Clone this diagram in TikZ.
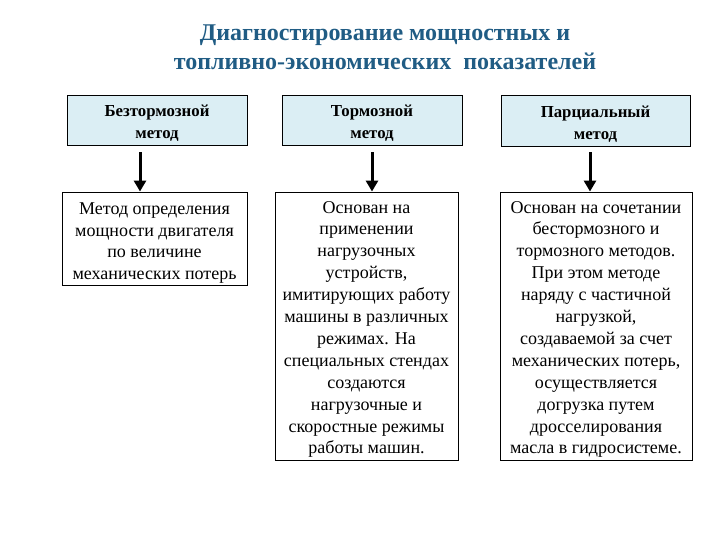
\documentclass[tikz,border=0pt]{standalone}
\usepackage{fontspec}
\setmainfont{Liberation Serif}
\usetikzlibrary{arrows.meta}
\definecolor{titleblue}{RGB}{32,92,132}
\definecolor{headfill}{RGB}{219,238,244}
\tikzset{
  headbox/.style={draw=black, line width=0.9pt, fill=headfill, inner sep=0pt},
  textbox/.style={draw=black, line width=0.9pt, fill=white, inner sep=0pt},
  headtext/.style={align=center, inner sep=0pt, font=\fontsize{16.8}{22}\selectfont\bfseries},
  bodytext/.style={align=center, inner sep=0pt, font=\fontsize{18}{21.9}\selectfont},
  arr/.style={line width=3pt, -{Triangle[length=11pt,width=12pt]}},
  titletext/.style={align=center, text=titleblue, font=\fontsize{24}{29}\selectfont\bfseries}
}
\begin{document}
\begin{tikzpicture}[x=1pt,y=-1pt]
\useasboundingbox (0,0) rectangle (720,540);
\node[titletext] (title) at (385,47.5) {Диагностирование мощностных и\\топливно-экономических\ \ показателей};
\node[headbox, minimum width=180pt, minimum height=50pt] (t1) at (157,120) {};
\node[headbox, minimum width=180pt, minimum height=50pt] (t2) at (372,120) {};
\node[headbox, minimum width=189pt, minimum height=51pt] (t3) at (595.5,120.5) {};
\node[headtext] (t1text) at ([yshift=-3.5pt]t1.center) {Безтормозной\\метод};
\node[headtext] (t2text) at ([yshift=-3.5pt]t2.center) {Тормозной\\метод};
\node[headtext] (t3text) at ([yshift=-3.5pt]t3.center) {Парциальный\\метод};
\node[textbox, minimum width=185pt, minimum height=93pt] (b1) at (154.5,238.5) {};
\node[textbox, minimum width=183pt, minimum height=268pt] (b2) at (366.5,326) {};
\node[textbox, minimum width=192pt, minimum height=268pt] (b3) at (596,326) {};
\node[bodytext] (b1text) at ([yshift=-4.5pt]b1.center) {Метод определения\\мощности двигателя\\по величине\\механических потерь};
\node[bodytext] (b2text) at ([yshift=-3.5pt]b2.center) {Основан на\\применении\\нагрузочных\\устройств,\\имитирующих работу\\машины в различных\\режимах. На\\специальных стендах\\создаются\\нагрузочные и\\скоростные режимы\\работы машин.};
\node[bodytext] (b3text) at ([yshift=-3.5pt]b3.center) {Основан на сочетании\\бестормозного и\\тормозного методов.\\При этом методе\\наряду с частичной\\нагрузкой,\\создаваемой за счет\\механических потерь,\\осуществляется\\догрузка путем\\дросселирования\\масла в гидросистеме.};
\coordinate (a1) at (140,0);
\coordinate (a2) at (372,0);
\coordinate (a3) at (590,0);
\draw[arr] ([yshift=-7pt]t1.south -| a1) -- (b1.north -| a1);
\draw[arr] ([yshift=-7pt]t2.south -| a2) -- (b2.north -| a2);
\draw[arr] ([yshift=-6pt]t3.south -| a3) -- (b3.north -| a3);
\end{tikzpicture}
\end{document}
